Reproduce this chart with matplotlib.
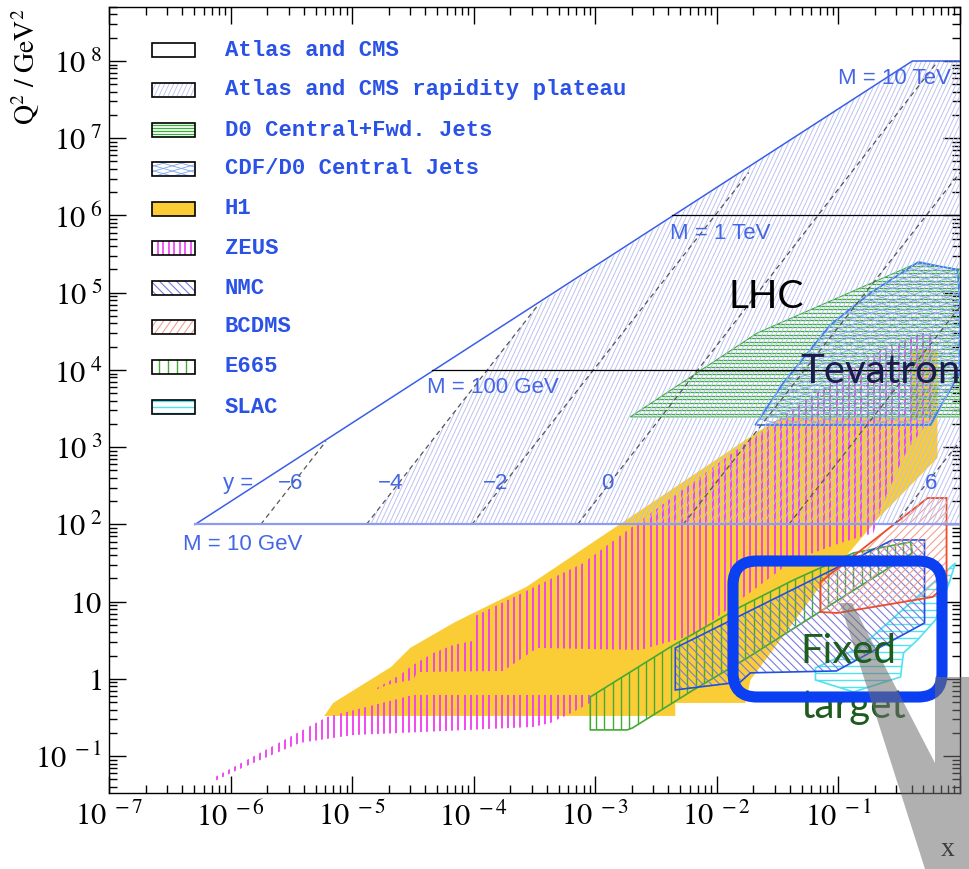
import numpy as np
import matplotlib
matplotlib.use("Agg")
import matplotlib.pyplot as plt
from matplotlib.patches import Polygon, Rectangle, FancyBboxPatch
from matplotlib.collections import LineCollection
from matplotlib.transforms import IdentityTransform
from matplotlib.ticker import LogLocator, NullFormatter

plt.rcParams['mathtext.fontset'] = 'stix'
plt.rcParams['font.family'] = ['DejaVu Sans']

# ---------------------------------------------------------------- data
legend_labels = ["Atlas and CMS", "Atlas and CMS rapidity plateau",
                 "D0 Central+Fwd. Jets", "CDF/D0 Central Jets", "H1", "ZEUS",
                 "NMC", "BCDMS", "E665", "SLAC"]

# LHC (Atlas and CMS) kinematic reach
lhc_x = [5.1e-7, 0.406, 1.0, 1.0]
lhc_q2 = [1e2, 1e8, 1e8, 1e2]
plateau_x = [1.31e-5, 3.4e-4, 0.406, 1.0, 1.0]
plateau_q2 = [1e2, 7.0e4, 1e8, 1e8, 1e2]

# lines of constant rapidity
rap_labels = ["\u22126", "\u22124", "\u22122", "0", "2", "4", "6"]
rap_x0 = [1.77e-6, 1.31e-5, 9.66e-5, 7.14e-4, 5.28e-3, 0.039, 0.288]
rap_q0 = [1e2, 1e2, 1e2, 1e2, 1e2, 1e2, 1e2]
rap_x1 = [6.1e-6, 3.4e-4, 0.0183, 0.66, 1.0, 1.0, 1.0]
rap_q1 = [1.2e3, 7.0e4, 3.6e6, 1e8, 3.6e6, 6.6e4, 1.2e3]
rap_label_x = [3.09e-6, 2.06e-5, 1.50e-4, 1.26e-3, 9.2e-3, 0.067, 0.582]
rap_label_q2 = 344.0
rap_title_x = 1.15e-6

# lines of constant mass
mass_labels = ["M = 10 GeV", "M = 100 GeV", "M = 1 TeV", "M = 10 TeV"]
mass_q2 = [1e2, 1e4, 1e6, 1e8]
mass_line_x0 = [5.1e-7, 4.55e-5, 4.3e-3, 0.406]
mass_label_x = [4.06e-7, 4.14e-5, 4.14e-3, 0.1]
mass_label_q2 = [54.3, 5.85e3, 5.93e5, 6.0e7]

# Tevatron
d0_x = [1.94e-3, 0.0215, 0.447, 1.0, 1.0]
d0_q2 = [2.47e3, 3.01e4, 2.43e5, 2.0e5, 2.47e3]
cdf_x = [0.0207, 0.0352, 0.0859, 0.183, 0.455, 0.953, 1.0, 0.99, 0.571]
cdf_q2 = [1.94e3, 6.79e3, 3.83e4, 9.9e4, 2.5e5, 1.97e5, 8.05e4, 9.1e3, 1.94e3]

# HERA
h1_x = [5.89e-6, 6.98e-6, 2.09e-5, 3.0e-5, 7.05e-5, 2.70e-4, 0.0215, 0.0334,
        0.392, 0.392, 0.653, 0.653, 0.213, 0.0671, 0.0189, 0.0172, 4.55e-3, 4.55e-3]
h1_q2 = [0.332, 0.489, 1.43, 2.52, 5.47, 15.5, 1.57e3, 2.39e3,
         2.39e3, 1.82e4, 1.82e4, 726, 121, 14.2, 0.97, 0.489, 0.489, 0.332]

zeus_hi_x = [1.55e-5, 2.48e-5, 3.18e-5, 4.65e-5, 6.77e-5, 9.73e-5, 9.9e-5, 7.96e-4,
             0.0242, 0.0859, 0.222, 0.473, 0.605, 0.605, 0.473, 0.377, 0.306, 0.253,
             0.222, 0.194, 0.110, 0.0427, 0.0228, 6.41e-3, 2.34e-3, 3.33e-4, 1.75e-4,
             3.43e-5, 3.18e-5, 2.48e-5, 1.94e-5, 1.55e-5]
zeus_hi_q2 = [0.743, 1.13, 1.52, 2.17, 2.75, 3.10, 6.35, 31.7,
              1.67e3, 6.79e3, 1.82e4, 3.01e4, 3.01e4, 2.61e3, 1.57e3, 977, 508, 241,
              154, 77.6, 59.3, 34.7, 16.5, 3.72, 2.37, 2.52, 1.27,
              1.23, 0.97, 0.914, 0.836, 0.721]
zeus_lo_x = [7.18e-7, 6.22e-6, 3.18e-5, 9.1e-4, 9.1e-4, 5.89e-4, 4.27e-4, 3.09e-4,
             8.85e-5, 2.48e-5, 1.02e-5, 3.73e-6, 2.0e-6, 1.05e-6, 7.18e-7]
zeus_lo_q2 = [0.0522, 0.322, 0.621, 0.621, 0.489, 0.342, 0.269, 0.239,
              0.219, 0.200, 0.188, 0.149, 0.0977, 0.0625, 0.0464]

# fixed target
e665_x = [9.1e-4, 9.1e-4, 4.14e-3, 0.0156, 0.0427, 0.133, 0.392, 0.406,
          0.0811, 0.0178, 6.41e-3, 2.02e-3, 1.83e-3]
e665_q2 = [0.219, 0.585, 2.59, 8.55, 19.1, 42.8, 59.3, 42.8,
           8.55, 1.87, 0.721, 0.232, 0.219]
nmc_x = [4.55e-3, 4.55e-3, 0.278, 0.511, 0.511, 0.0964, 0.0189, 0.0156]
nmc_q2 = [0.721, 2.52, 63.0, 63.0, 5.31, 1.27, 1.20, 0.914]
bcdms_x = [0.0711, 0.0711, 0.541, 0.775, 0.775, 0.594, 0.0982]
bcdms_q2 = [7.36, 18.0, 220, 220, 16.5, 11.5, 7.15]
slac_x = [0.0647, 0.0647, 0.133, 0.324, 0.343, 0.447, 0.628, 0.803, 0.918, 0.152]
slac_q2 = [1.39, 0.97, 0.679, 1.06, 2.17, 3.20, 5.81, 16.5, 31.7, 2.59]

x_ticks = [1e-7, 1e-6, 1e-5, 1e-4, 1e-3, 1e-2, 1e-1, 1.0]
x_ticklabels = [r"$10^{\,\,-7}$", r"$10^{\,\,-6}$", r"$10^{\,\,-5}$", r"$10^{\,\,-4}$",
                r"$10^{\,\,-3}$", r"$10^{\,\,-2}$", r"$10^{\,\,-1}$", ""]
y_ticks = [1e-1, 1, 1e1, 1e2, 1e3, 1e4, 1e5, 1e6, 1e7, 1e8]
y_ticklabels = [r"$10^{\,\,-1}$", r"$1$", r"$10$", r"$10^{\,\,2}$", r"$10^{\,\,3}$",
                r"$10^{\,\,4}$", r"$10^{\,\,5}$", r"$10^{\,\,6}$", r"$10^{\,\,7}$",
                r"$10^{\,\,8}$"]

# ---------------------------------------------------------------- style
W, H, DPI = 969, 869, 100
BLUE_TXT = "#2a52e6"
LHC_C = "#3a5ee8"
LOWLINE_C = "#8f9bf0"
PLATEAU_C = "#b8bff0"
D0_C = "#3aae3a"
CDF_O = "#3a7ff0"
CDF_H = "#7ea4f0"
H1_C = "#facd37"
ZEUS_C = "#f03cf0"
NMC_O = "#1f4fe6"
NMC_H = "#7a7ae0"
BCDMS_O = "#f04a2a"
BCDMS_H = "#f3a092"
E665_C = "#44aa33"
SLAC_C = "#4fe2f0"

fig = plt.figure(figsize=(W / DPI, H / DPI), dpi=DPI)
fig.patch.set_facecolor("white")
ax = fig.add_axes([109 / W, 1 - 793 / H, (960 - 109) / W, (793 - 7) / H])
ax.set_xscale("log")
ax.set_yscale("log")
ax.set_xlim(1e-7, 1.0)
ax.set_ylim(0.0334, 5.0e8)
ax.set_autoscale_on(False)

R = np.hypot(W, H)


def add_hatch(clip, angle, spacing, color, lw, z):
    th = np.deg2rad(angle)
    u = np.array([np.cos(th), np.sin(th)])
    n = np.array([-np.sin(th), np.cos(th)])
    ks = np.arange(-R, R, spacing)
    segs = [[k * n - R * u, k * n + R * u] for k in ks]
    lc = LineCollection(segs, colors=color, linewidths=lw, zorder=z,
                        transform=IdentityTransform())
    ax.add_collection(lc, autolim=False)
    lc.set_clip_path(clip)


def region(xs, qs, fill="none", outline=None, olw=1.0, hatches=(), z=2.0):
    verts = np.column_stack([xs, qs])
    clip = Polygon(verts, closed=True, facecolor=fill, edgecolor="none",
                   linewidth=0, zorder=z)
    ax.add_patch(clip)
    for ang, sp, col, lw in hatches:
        add_hatch(clip, ang, sp, col, lw, z + 0.05)
    if outline is not None:
        ax.add_patch(Polygon(verts, closed=True, facecolor="none",
                             edgecolor=outline, linewidth=olw, zorder=z + 0.1))


# rapidity labels (the ones at y=2,4 sit beneath the H1 area)
rap_label_z = [6, 6, 6, 6, 1.5, 1.5, 6]
ax.text(rap_title_x, rap_label_q2, "y =", color="#4466e6", fontsize=16,
        family="Liberation Sans", ha="center", va="center", zorder=6)
for lab, lx, z in zip(rap_labels, rap_label_x, rap_label_z):
    ax.text(lx, rap_label_q2, lab, color="#4466e6", fontsize=16,
            family="Liberation Sans", ha="center", va="center", zorder=z)

# HERA
region(h1_x, h1_q2, fill=H1_C, z=2.0)
region(zeus_hi_x, zeus_hi_q2, hatches=[(90, 6.2, ZEUS_C, 1.3)], z=2.5)
region(zeus_lo_x, zeus_lo_q2, hatches=[(90, 6.2, ZEUS_C, 1.3)], z=2.5)

# fixed target
region(e665_x, e665_q2, outline=E665_C, olw=1.2, hatches=[(90, 8.3, E665_C, 1.0)], z=3.0)
region(nmc_x, nmc_q2, outline=NMC_O, olw=1.2, hatches=[(-45, 5.9, NMC_H, 0.8)], z=3.2)
region(bcdms_x, bcdms_q2, outline=BCDMS_O, olw=1.3, hatches=[(45, 5.9, BCDMS_H, 0.8)], z=3.3)
region(slac_x, slac_q2, outline=SLAC_C, olw=1.2, hatches=[(0, 7.0, SLAC_C, 1.0)], z=3.1)

# Tevatron
region(d0_x, d0_q2, outline=D0_C, olw=0.8, hatches=[(0, 3.6, D0_C, 0.95)], z=3.5)
region(cdf_x, cdf_q2, outline=CDF_O, olw=1.3,
       hatches=[(16, 6.0, CDF_H, 0.6), (-16, 6.0, CDF_H, 0.6)], z=3.6)

# LHC rapidity plateau
region(plateau_x, plateau_q2, hatches=[(65, 4.1, PLATEAU_C, 0.65)], z=4.0)

# constant-rapidity dashed lines
for x0, q0, x1, q1 in zip(rap_x0, rap_q0, rap_x1, rap_q1):
    ax.plot([x0, x1], [q0, q1], color="#555555", lw=0.9, ls=(0, (4, 3)), zorder=4.5)

# LHC outline and constant-mass lines
ax.plot(lhc_x[:3], lhc_q2[:3], color=LHC_C, lw=1.1, zorder=5)
ax.plot([mass_line_x0[0], 1.0], [mass_q2[0], mass_q2[0]], color=LOWLINE_C, lw=1.6, zorder=5)
for xm, qm in zip(mass_line_x0[1:3], mass_q2[1:3]):
    ax.plot([xm, 1.0], [qm, qm], color="black", lw=0.9, zorder=5)
for lab, lx, lq in zip(mass_labels, mass_label_x, mass_label_q2):
    ax.text(lx, lq, lab, color="#4466e6", fontsize=16, family="Liberation Sans",
            ha="left", va="center", zorder=6)

# ---------------------------------------------------------------- axes
ax.set_xticks(x_ticks, labels=x_ticklabels)
ax.set_yticks(y_ticks, labels=y_ticklabels)
ax.xaxis.set_minor_locator(LogLocator(base=10, subs=np.arange(2, 10), numticks=100))
ax.yaxis.set_minor_locator(LogLocator(base=10, subs=np.arange(2, 10), numticks=100))
ax.xaxis.set_minor_formatter(NullFormatter())
ax.yaxis.set_minor_formatter(NullFormatter())
ax.tick_params(which="both", direction="in", top=True, right=True, width=1.0,
               colors="black", labelsize=22)
ax.tick_params(which="major", length=12)
ax.tick_params(which="minor", length=6)
ax.tick_params(axis="x", pad=6)
ax.tick_params(axis="y", pad=5)
for sp in ax.spines.values():
    sp.set_linewidth(1.0)
ax.set_zorder(0)

fig.text(26 / W, 1 - 8 / H, r"$\mathrm{Q^2\ /\ GeV^2}$", rotation=90,
         ha="center", va="top", fontsize=20)

# ---------------------------------------------------------------- legend
leg_rows = [50, 90, 130, 169, 209, 248, 288, 327, 367, 407]
leg_fill = ["white", "white", "white", "white", H1_C, "white", "white", "white", "white", "white"]
leg_hatch = [[], [(65, 4.1, PLATEAU_C, 0.6)], [(0, 3.0, D0_C, 0.9)],
             [(16, 5.0, CDF_H, 0.6), (-16, 5.0, CDF_H, 0.6)], [],
             [(90, 5.5, ZEUS_C, 1.2)], [(-45, 6.0, NMC_H, 0.8)],
             [(55, 6.0, BCDMS_H, 0.8)], [(90, 9.0, E665_C, 1.0)],
             [(0, 6.0, SLAC_C, 1.0)]]
for yc, lab, fc, hs in zip(leg_rows, legend_labels, leg_fill, leg_hatch):
    rect = Rectangle((152 / W, 1 - (yc + 7) / H), 43 / W, 14 / H,
                     transform=fig.transFigure, facecolor=fc, edgecolor="none", zorder=7)
    ax.add_patch(rect)
    for ang, sp, col, lw in hs:
        add_hatch(rect, ang, sp, col, lw, 7.1)
    ax.add_patch(Rectangle((152 / W, 1 - (yc + 7) / H), 43 / W, 14 / H,
                           transform=fig.transFigure, facecolor="none",
                           edgecolor="black", linewidth=1.2, zorder=7.2))
    fig.text(225 / W, 1 - yc / H, lab, family="Liberation Mono", weight="bold",
             fontsize=16, color=BLUE_TXT, ha="left", va="center")

# ---------------------------------------------------------------- slide overlay
fig.text(728 / W, 1 - 308 / H, "LHC", family="Lato", fontsize=28, color="black",
         ha="left", va="baseline", zorder=5)
fig.text(800 / W, 1 - 383 / H, "Tevatron", family="Lato", fontsize=29, color="#1b1b4d",
         ha="left", va="baseline", zorder=5)
fig.text(800 / W, 1 - 718 / H, "target", family="Lato", fontsize=29, color="#1d5c1d",
         ha="left", va="baseline", zorder=5)
fig.text(948 / W, 1 - 850 / H, "x", family="Liberation Serif", fontsize=20,
         color="black", ha="center", va="center", zorder=4)

box = FancyBboxPatch((733, H - 697), 942 - 733, 697 - 561,
                     boxstyle="round,pad=0,rounding_size=24",
                     transform=IdentityTransform(), facecolor="none",
                     edgecolor="#0b3ff2", linewidth=8, zorder=6)
fig.add_artist(box)

wedge = Polygon([(840, H - 603), (852, H - 603), (935, H - 763), (935, H - 677),
                 (969, H - 677), (969, 0), (925, 0)], closed=True,
                transform=IdentityTransform(), facecolor="#707070", alpha=0.55,
                edgecolor="none", zorder=7)
fig.add_artist(wedge)

fig.text(800 / W, 1 - 663 / H, "Fixed", family="Lato", fontsize=29, color="#1d5c1d",
         ha="left", va="baseline", zorder=8)

fig.savefig("out.png", dpi=DPI, facecolor="white")
